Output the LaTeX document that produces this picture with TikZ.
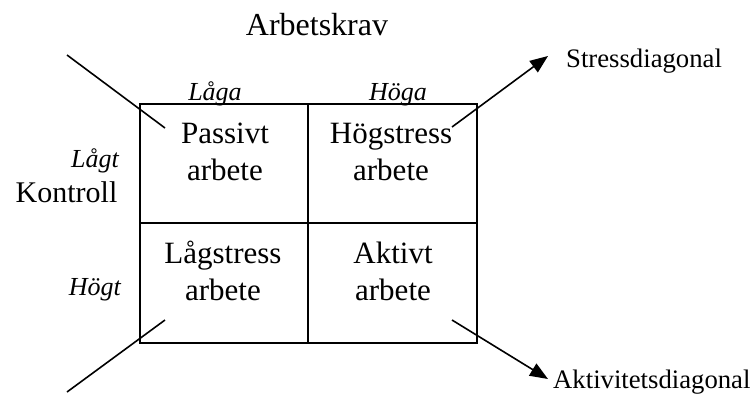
\documentclass[tikz,border=0pt]{standalone}
\usepackage{fontspec}
\setmainfont{Liberation Serif}
\usetikzlibrary{arrows.meta}
\tikzset{
  cell/.style={align=center, font=\fontsize{31}{37}\selectfont, inner sep=0pt, anchor=center},
  lbl/.style={font=\fontsize{26}{30}\selectfont\itshape, inner sep=0pt},
  big/.style={font=\fontsize{30}{36}\selectfont, inner sep=0pt, anchor=base},
  diagtxt/.style={font=\fontsize{26.7}{30}\selectfont, inner sep=0pt, anchor=base west},
  frame/.style={line width=2pt},
  ln/.style={line width=1.6pt},
  arr/.style={line width=1.6pt, -{Triangle[length=18pt,width=14pt]}}
}
\begin{document}
\begin{tikzpicture}[x=1pt,y=-1pt]
\useasboundingbox (0,0) rectangle (751,405);
% grid
\coordinate (tl) at (140,103.5);
\coordinate (br) at (477,343);
\coordinate (mt) at (307.5,103.5);
\coordinate (mb) at (307.5,343);
\coordinate (ml) at (140,223);
\coordinate (mr) at (477,223);
\draw[frame] (tl) rectangle (br);
\draw[frame] (mt) -- (mb);
\draw[frame] (ml) -- (mr);
% headings
\node[big, font=\fontsize{32}{38}\selectfont] (arb) at (317,35) {Arbetskrav};
\node[big] (kon) at (66.5,202) {Kontroll};
\node[lbl, anchor=base] (laga) at (215,100) {Låga};
\node[lbl, anchor=base] (hoga) at (398,100) {Höga};
\node[lbl, anchor=base east] (lagt) at (119,167) {Lågt};
\node[lbl, anchor=base east] (hogt) at (121,295) {Högt};
% cells
\node[cell] (c1) at (225,152) {Passivt\\arbete};
\node[cell] (c2) at (391,152) {Högstress\\arbete};
\node[cell] (c3) at (223,271) {Lågstress\\arbete};
\node[cell] (c4) at (393,271) {Aktivt\\arbete};
% diagonal labels
\node[diagtxt] (sd) at (566,67) {Stressdiagonal};
\node[diagtxt] (ad) at (553,388) {Aktivitetsdiagonal};
% diagonals
\coordinate (a1) at (67,55);
\coordinate (a2) at (165,128);
\coordinate (b1) at (165,320);
\coordinate (b2) at (67,392);
\coordinate (s1) at (452,127);
\coordinate (s2) at (548,56);
\coordinate (k1) at (452,320);
\coordinate (k2) at (548,379);
\draw[ln] (a1) -- (a2);
\draw[ln] (b1) -- (b2);
\draw[arr] (s1) -- (s2);
\draw[arr] (k1) -- (k2);
\end{tikzpicture}
\end{document}
